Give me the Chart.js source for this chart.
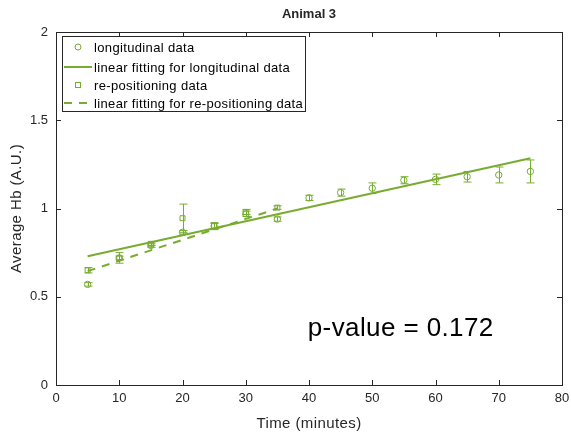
<!DOCTYPE html>
<html>
<head>
<meta charset="utf-8">
<script src="https://cdn.jsdelivr.net/npm/chart.js@4"></script>
<style>
  html, body { margin: 0; padding: 0; background: #fff; }
  #wrap { width: 571px; height: 440px; position: relative; }
</style>
</head>
<body>
<div id="wrap"><canvas id="chart"></canvas></div>
<script>
// values
const timesLong = [5, 10, 15, 20, 25, 30, 35, 40, 45, 50, 55, 60, 65, 70, 75];
const hbLong = [0.57, 0.72, 0.79, 0.865, 0.90, 0.97, 0.94, 1.06, 1.09, 1.115, 1.16, 1.165, 1.18, 1.19, 1.21];
const errLong = [0.01, 0.03, 0.01, 0.01, 0.02, 0.015, 0.012, 0.015, 0.02, 0.03, 0.02, 0.03, 0.03, 0.045, 0.065];

const timesRepo = [5, 10, 15, 20, 25, 30, 35];
const hbRepo = [0.65, 0.72, 0.80, 0.945, 0.90, 0.98, 1.005];
const errRepo = [0.015, 0.01, 0.01, 0.08, 0.015, 0.015, 0.01];

const fitLongX = [5, 75];
const fitLongY = [0.73, 1.285];
const fitRepoX = [5, 35];
const fitRepoY = [0.645, 1.0];

const xTicks = [0, 10, 20, 30, 40, 50, 60, 70, 80];
const yTicks = [0, 0.5, 1, 1.5, 2];

const pValueText = 'p-value = 0.172';
const titleText = 'Animal 3';
const legendLabels = ['longitudinal data', 'linear fitting for longitudinal data', 're-positioning data', 'linear fitting for re-positioning data'];

const green = '#77AC30';
const axisColor = '#262626';
const fontFamily = '"Liberation Sans", Arial, sans-serif';

const toPoints = (xs, ys) => xs.map((x, i) => ({ x: x, y: ys[i] }));

// error bars, title, frame, legend and annotation drawn through the chart scales
const extras = {
    id: 'extras',
    beforeDatasetsDraw(chart) {
        const { ctx, scales: { x, y } } = chart;
        ctx.save();
        ctx.strokeStyle = green;
        ctx.lineWidth = 1;
        const bars = (xs, ys, es) => {
            xs.forEach((t, i) => {
                const px = Math.round(x.getPixelForValue(t)) + 0.5;
                const top = y.getPixelForValue(ys[i] + es[i]);
                const bot = y.getPixelForValue(ys[i] - es[i]);
                ctx.beginPath();
                ctx.moveTo(px, top); ctx.lineTo(px, bot);
                ctx.moveTo(px - 4, top); ctx.lineTo(px + 4, top);
                ctx.moveTo(px - 4, bot); ctx.lineTo(px + 4, bot);
                ctx.stroke();
            });
        };
        bars(timesLong, hbLong, errLong);
        bars(timesRepo, hbRepo, errRepo);
        ctx.restore();
    },
    afterDraw(chart) {
        const { ctx, chartArea: a, scales: { x, y } } = chart;
        ctx.save();
        // frame
        ctx.strokeStyle = axisColor;
        ctx.lineWidth = 1;
        ctx.strokeRect(Math.round(a.left) + 0.5, Math.round(a.top) + 0.5, Math.round(a.right - a.left), Math.round(a.bottom - a.top));
        // inward ticks on all sides
        ctx.beginPath();
        xTicks.forEach(t => {
            const px = Math.round(x.getPixelForValue(t)) + 0.5;
            ctx.moveTo(px, a.bottom); ctx.lineTo(px, a.bottom - 5);
            ctx.moveTo(px, a.top); ctx.lineTo(px, a.top + 5);
        });
        yTicks.forEach(t => {
            const py = Math.round(y.getPixelForValue(t)) + 0.5;
            ctx.moveTo(a.left, py); ctx.lineTo(a.left + 5, py);
            ctx.moveTo(a.right, py); ctx.lineTo(a.right - 5, py);
        });
        ctx.stroke();

        // title + axis titles
        ctx.fillStyle = axisColor;
        ctx.textAlign = 'center';
        ctx.textBaseline = 'middle';
        ctx.font = 'bold 13px ' + fontFamily;
        ctx.fillText(titleText, (a.left + a.right) / 2, 14);
        ctx.font = '15px ' + fontFamily;
        ctx.letterSpacing = '0.4px';
        ctx.fillText('Time (minutes)', (a.left + a.right) / 2, 424);
        ctx.save();
        ctx.translate(17, (a.top + a.bottom) / 2);
        ctx.rotate(-Math.PI / 2);
        ctx.fillText('Average Hb (A.U.)', 0, 0);
        ctx.restore();

        // p-value annotation
        ctx.fillStyle = '#000';
        ctx.textAlign = 'left';
        ctx.font = '26px ' + fontFamily;
        ctx.letterSpacing = '0.4px';
        ctx.fillText(pValueText, x.getPixelForValue(39.8), y.getPixelForValue(0.32));

        // legend box
        const lx = 62, ly = 36, lw = 243, lh = 75;
        ctx.fillStyle = '#fff';
        ctx.fillRect(lx, ly, lw, lh);
        ctx.strokeStyle = axisColor;
        ctx.strokeRect(lx + 0.5, ly + 0.5, lw, lh);
        const rows = [47, 67, 85, 103];
        ctx.strokeStyle = green;
        ctx.lineWidth = 1;
        ctx.beginPath(); ctx.arc(78, rows[0], 3, 0, Math.PI * 2); ctx.stroke();
        ctx.strokeRect(75.5, rows[2] - 2.5, 5, 5);
        ctx.lineWidth = 2;
        ctx.beginPath(); ctx.moveTo(64, rows[1]); ctx.lineTo(92, rows[1]); ctx.stroke();
        ctx.setLineDash([8, 7]);
        ctx.beginPath(); ctx.moveTo(64, rows[3]); ctx.lineTo(93, rows[3]); ctx.stroke();
        ctx.setLineDash([]);
        ctx.fillStyle = '#000';
        ctx.font = '13px ' + fontFamily;
        ctx.letterSpacing = '0.35px';
        ctx.textBaseline = 'middle';
        legendLabels.forEach((lab, i) => ctx.fillText(lab, 94, rows[i] + 1));
        ctx.restore();
    }
};

new Chart(document.getElementById('chart'), {
    type: 'scatter',
    data: {
        datasets: [
            { data: toPoints(timesLong, hbLong), pointStyle: 'circle', pointRadius: 3.2, borderColor: green, backgroundColor: 'rgba(0,0,0,0)', borderWidth: 1, showLine: false },
            { data: toPoints(fitLongX, fitLongY), showLine: true, pointRadius: 0, borderColor: green, borderWidth: 2 },
            { data: toPoints(timesRepo, hbRepo), pointStyle: 'rect', pointRadius: 3.5, borderColor: green, backgroundColor: 'rgba(0,0,0,0)', borderWidth: 1, showLine: false },
            { data: toPoints(fitRepoX, fitRepoY), showLine: true, pointRadius: 0, borderColor: green, borderWidth: 2, borderDash: [8, 7] }
        ]
    },
    options: {
        responsive: true,
        maintainAspectRatio: false,
        animation: false,
        layout: { padding: { top: 32, right: 9, left: 0, bottom: 0 } },
        plugins: { legend: { display: false }, tooltip: { enabled: false } },
        scales: {
            x: {
                type: 'linear', min: 0, max: 80,
                afterBuildTicks: s => { s.ticks = xTicks.map(v => ({ value: v })); },
                afterFit: s => { s.height = 55; s.paddingLeft = 0; s.paddingRight = 0; },
                grid: { display: false, drawTicks: false },
                border: { display: false },
                ticks: { color: axisColor, font: { family: fontFamily, size: 13 }, padding: 6, maxRotation: 0 }
            },
            y: {
                type: 'linear', min: 0, max: 2,
                afterBuildTicks: s => { s.ticks = yTicks.map(v => ({ value: v })); },
                afterFit: s => { s.width = 56; s.paddingTop = 0; s.paddingBottom = 0; },
                grid: { display: false, drawTicks: false },
                border: { display: false },
                ticks: { color: axisColor, font: { family: fontFamily, size: 13 }, padding: 8, callback: v => String(v) }
            }
        }
    },
    plugins: [extras]
});
</script>
</body>
</html>
